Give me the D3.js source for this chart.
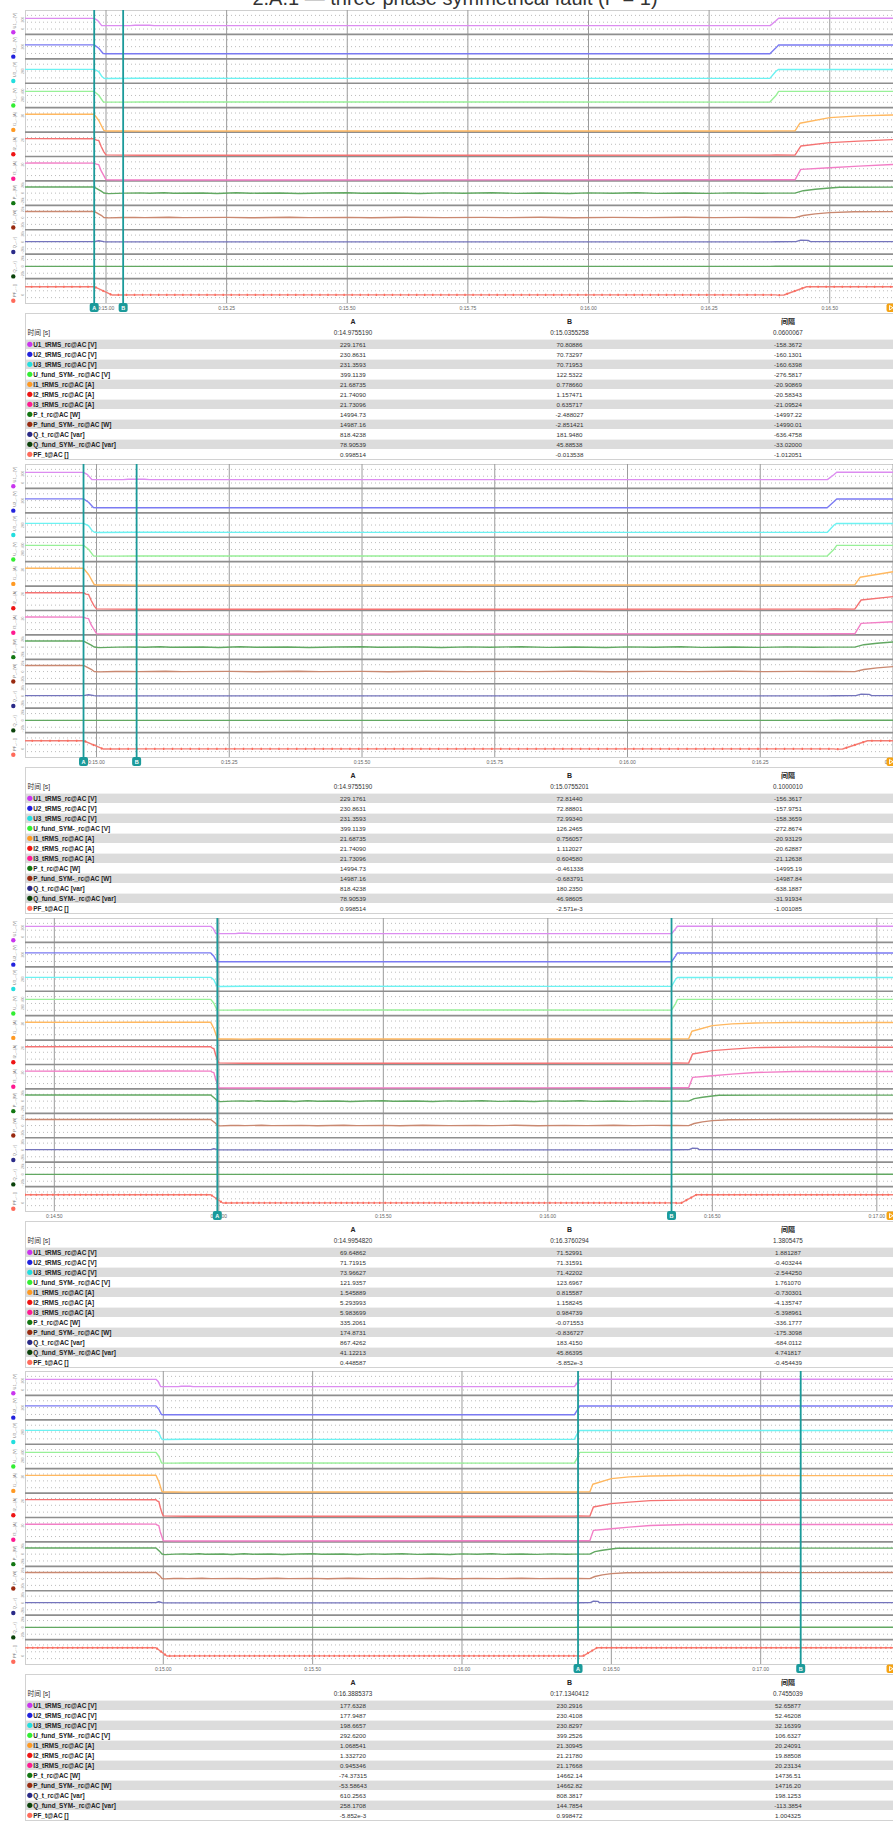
<!DOCTYPE html>
<html><head><meta charset="utf-8">
<script src="https://cdn.jsdelivr.net/npm/d3@7/dist/d3.min.js"></script>
<style>
body{margin:0;background:#fff;}
svg{display:block;font-family:"Liberation Sans","Noto Sans CJK SC",Arial,sans-serif;}
</style>
</head><body>
<svg id="c" width="893" height="1821"></svg>
<script>
// ---------------- DATA ----------------
const title = "2.A.1 — three-phase symmetrical fault (F = 1)";
const channelNames = ["U1_tRMS_rc@AC [V]","U2_tRMS_rc@AC [V]","U3_tRMS_rc@AC [V]","U_fund_SYM-_rc@AC [V]","I1_tRMS_rc@AC [A]","I2_tRMS_rc@AC [A]","I3_tRMS_rc@AC [A]","P_t_rc@AC [W]","P_fund_SYM-_rc@AC [W]","Q_t_rc@AC [var]","Q_fund_SYM-_rc@AC [var]","PF_t@AC []"];
const axisNames = ["U1_...[V]","U2_...[V]","U3_...[V]","U_...[V]","I1_...[A]","I2_...[A]","I3_...[A]","P_...[W]","P_...[W]","Q_...r]","Q_...r]","PF_...[]"];
const dotColors = ["#c935ee","#2222dd","#22dede","#33ee33","#ff9922","#ee1414","#ff1a90","#127712","#992a10","#2a2a88","#0a420a","#ff6a5a"];
const lineColors = ["#dc8cf0","#7a7af2","#6cf2f2","#98f098","#ffb860","#f47272","#f27ec6","#62a862","#c98870","#7474bc","#62a862","#f27c74"];
const yDomains = [[-120,410],[-20,420],[-15,420],[-20,610],[-0.5,30],[-0.5,30],[-0.5,30],[-30000,30000],[-30000,30000],[-30000,30000],[-30000,30000],[-1,2]];

// time [s], value
const sU1 = [[14.41,229.0],[14.70,229.3],[14.9755,229.2],[14.983,180],[14.991,72],[15.0,70.8],[15.05,71],[15.06,80],[15.09,80],[15.1,71.5],[16.3765,71.5],[16.3885,177.6],[16.394,230.2],[17.45,230.3]];
const sU2 = [[14.41,230.9],[14.9755,230.9],[14.985,170],[14.994,75],[15.0,70.7],[15.0755,72.9],[16.376,71.3],[16.3885,177.9],[16.394,230.4],[17.45,230.4]];
const sU3 = [[14.41,231.4],[14.9755,231.4],[14.985,190],[14.992,100],[14.996,74],[15.0,70.7],[15.0755,73.0],[16.376,71.4],[16.3885,198.7],[16.394,230.8],[17.45,230.8]];
const sUf = [[14.41,399.1],[14.9755,399.1],[14.985,300],[14.994,135],[14.9955,121.9],[15.0355,122.5],[15.0755,126.2],[16.376,123.7],[16.3885,292.6],[16.394,399.2],[17.45,399.3]];
const sI1 = [[14.41,21.7],[14.6,21.6],[14.75,21.75],[14.9755,21.69],[14.985,14],[14.9955,1.55],[15.0,0.9],[15.0355,0.78],[15.0755,0.76],[16.376,0.82],[16.3885,1.07],[16.428,1.0],[16.438,10.5],[16.5,17.5],[16.56,19.8],[16.63,20.9],[16.75,21.4],[16.9,21.2],[17.0,21.5],[17.134,21.31],[17.45,21.3]];
const sI2 = [[14.41,21.74],[14.7,21.8],[14.9755,21.74],[14.98,20.0],[14.985,19.5],[14.99,12],[14.9955,5.3],[15.0,1.5],[15.0355,1.16],[15.0755,1.11],[16.376,1.16],[16.3885,1.33],[16.428,1.2],[16.44,12.6],[16.5,16.8],[16.56,18.7],[16.63,20.6],[16.8,21.5],[16.95,21.0],[17.134,21.22],[17.45,21.2]];
const sI3 = [[14.41,21.73],[14.65,21.6],[14.85,21.8],[14.9755,21.73],[14.98,20.5],[14.985,19.8],[14.99,12],[14.9955,6.0],[15.0,1.0],[15.0355,0.64],[15.0755,0.6],[16.376,0.98],[16.3885,0.95],[16.428,0.9],[16.44,13.9],[16.5,16],[16.56,18],[16.63,20],[16.75,21.2],[17.134,21.18],[17.45,21.2]];
const sPt = [[14.41,14995],[14.6,14980],[14.8,15010],[14.9755,14995],[14.99,5000],[14.9955,335],[15.005,-1200],[15.04,-2.5],[15.07,600],[15.09,-400],[15.12,1000],[15.14,-300],[15.2,200],[15.23,-900],[15.27,800],[15.3,-200],[15.36,400],[15.4,-1000],[15.45,300],[15.5,1100],[15.53,-400],[15.6,200],[15.65,-800],[15.7,700],[15.74,-200],[15.8,900],[15.85,-600],[15.9,200],[15.96,-900],[16.0,600],[16.05,-300],[16.1,1000],[16.14,-500],[16.2,300],[16.25,-700],[16.3,500],[16.35,-300],[16.376,-72],[16.3885,-74],[16.428,-100],[16.445,6000],[16.47,9500],[16.5,12500],[16.52,14600],[16.7,14750],[17.134,14662],[17.45,14700]];
const sPf = [[14.41,14987],[14.7,14995],[14.9755,14987],[14.99,5500],[14.9955,175],[15.005,-900],[15.0355,-2.85],[15.06,500],[15.08,-300],[15.13,700],[15.16,-200],[15.25,400],[15.3,-500],[15.38,600],[15.42,-200],[15.5,500],[15.55,-400],[15.62,600],[15.7,-300],[15.78,500],[15.83,-200],[15.9,600],[15.97,-400],[16.05,500],[16.12,-300],[16.2,600],[16.26,-200],[16.32,400],[16.376,-0.84],[16.3885,-53.6],[16.428,-100],[16.445,5000],[16.47,9000],[16.5,12000],[16.55,14400],[16.7,14700],[17.134,14663],[17.45,14680]];
const sQt = [[14.41,818],[14.9755,818],[14.985,3000],[14.9955,867],[15.0,190],[16.376,183],[16.3885,610],[16.43,900],[16.44,4500],[16.455,4000],[16.46,900],[17.134,808],[17.45,810]];
const sQf = [[14.41,79],[14.9755,79],[14.9955,41],[15.0355,45.9],[16.376,45.9],[16.3885,258],[17.134,144.8],[17.45,145]];
const sPF = [[14.41,0.9985],[14.9755,0.9985],[14.9955,0.4486],[15.012,-0.0135],[15.0755,-0.0026],[16.376,-0.0059],[16.3885,-0.0059],[16.392,-0.03],[16.405,-0.02],[16.452,0.998],[17.134,0.9985],[17.45,0.9985]];
const series = [sU1,sU2,sU3,sUf,sI1,sI2,sI3,sPt,sPf,sQt,sQf,sPF];

const xDomains = [[14.8321,16.6311],[14.8653,16.5],[14.4109,17.0492],[14.537,17.443]];
const xTicks1 = [15.0,15.25,15.5,15.75,16.0,16.25,16.5];
const xTicks2 = [15.0,15.25,15.5,15.75,16.0,16.25,16.5];
const xTicks3 = [14.5,15.0,15.5,16.0,16.5,17.0];
const xTicks4 = [15.0,15.5,16.0,16.5,17.0];
const xTicks = [xTicks1,xTicks2,xTicks3,xTicks4];

const timeA = ["0:14.9755190","0:14.9755190","0:14.9954820","0:16.3885373"];
const timeB = ["0:15.0355258","0:15.0755201","0:16.3760294","0:17.1340412"];
const timeD = ["0.0600067","0.1000010","1.3805475","0.7455039"];

const p1A = ["229.1761","230.8631","231.3593","399.1139","21.68735","21.74090","21.73096","14994.73","14987.16","818.4238","78.90539","0.998514"];
const p1B = ["70.80886","70.73297","70.71953","122.5322","0.778660","1.157471","0.635717","-2.488027","-2.851421","181.9480","45.88538","-0.013538"];
const p1D = ["-158.3672","-160.1301","-160.6398","-276.5817","-20.90869","-20.58343","-21.09524","-14997.22","-14990.01","-636.4758","-33.02000","-1.012051"];
const p2A = ["229.1761","230.8631","231.3593","399.1139","21.68735","21.74090","21.73096","14994.73","14987.16","818.4238","78.90539","0.998514"];
const p2B = ["72.81440","72.88801","72.99340","126.2465","0.756057","1.112027","0.604580","-0.461338","-0.683791","180.2350","46.98605","-2.571e-3"];
const p2D = ["-156.3617","-157.9751","-158.3659","-272.8674","-20.93129","-20.62887","-21.12638","-14995.19","-14987.84","-638.1887","-31.91934","-1.001085"];
const p3A = ["69.64862","71.71915","73.96627","121.9357","1.545889","5.293993","5.983699","335.2061","174.8731","867.4262","41.12213","0.448587"];
const p3B = ["71.52991","71.31591","71.42202","123.6967","0.815587","1.158245","0.984739","-0.071553","-0.836727","183.4150","45.86395","-5.852e-3"];
const p3D = ["1.881287","-0.403244","-2.544250","1.761070","-0.730301","-4.135747","-5.398961","-336.1777","-175.3098","-684.0112","4.741817","-0.454439"];
const p4A = ["177.6328","177.9487","198.6657","292.6200","1.068541","1.332720","0.945346","-74.37315","-53.58643","610.2563","258.1708","-5.852e-3"];
const p4B = ["230.2916","230.4108","230.8297","399.2526","21.30945","21.21780","21.17668","14662.14","14662.82","808.3817","144.7854","0.998472"];
const p4D = ["52.65877","52.46208","32.16399","106.6327","20.24091","19.88508","20.23134","14736.51","14716.20","198.1253","-113.3854","1.004325"];
const tableA = [p1A,p2A,p3A,p4A], tableB = [p1B,p2B,p3B,p4B], tableD = [p1D,p2D,p3D,p4D];
const colHeaders = ["A","B","间隔"];
const timeLabel = "时间 [s]";

// ---------------- DRAW ----------------
const svg = d3.select("#c");
const L = 25, R = 893;
const panelTops = [10, 464, 918, 1371];
const CH = 293, NS = 12, SH = CH / NS;
const teal = "#1b9a9a";
const colX = [353, 569.5, 788];

svg.append("text").attr("x",455).attr("y",4.5).attr("text-anchor","middle")
  .attr("font-size",20).attr("fill","#333").text(title);

panelTops.forEach((oy, p) => {
  const g = svg.append("g");
  const x = d3.scaleLinear().domain(xDomains[p]).range([L, R]);
  const pxPerSec = (R - L) / (xDomains[p][1] - xDomains[p][0]);
  const clipId = "clip" + p;
  svg.append("clipPath").attr("id", clipId).append("rect")
    .attr("x", L).attr("y", oy).attr("width", R - L).attr("height", CH);

  g.append("rect").attr("x", L + 0.5).attr("y", oy + 0.5).attr("width", R - L + 10).attr("height", CH)
    .attr("fill", "#fff").attr("stroke", "#cfcfcf");

  // dotted grid rows
  for (let k = 0; k < NS; k++) {
    const y0 = oy + k * SH;
    [0.22, 0.5, 0.78].forEach(f => {
      g.append("line").attr("x1", L + 2).attr("x2", R).attr("y1", y0 + f * SH).attr("y2", y0 + f * SH)
        .attr("stroke", "#b4b4b4").attr("stroke-width", 0.9).attr("stroke-dasharray", "1,3");
    });
  }
  // vertical grid
  g.selectAll(".vg").data(xTicks[p]).enter().append("line")
    .attr("x1", d => x(d)).attr("x2", d => x(d)).attr("y1", oy).attr("y2", oy + CH)
    .attr("stroke", "#9c9c9c").attr("stroke-width", 1);
  // strip separators
  for (let k = 0; k < NS - 1; k++) {
    const yy = oy + (k + 1) * SH;
    g.append("line").attr("x1", L).attr("x2", R).attr("y1", yy).attr("y2", yy)
      .attr("stroke", "#8e8e8e").attr("stroke-width", 1.6);
  }
  // left axis area
  for (let k = 0; k < NS; k++) {
    const y0 = oy + k * SH;
    const ys = d3.scaleLinear().domain(yDomains[k]).range([y0 + SH, y0]);
    g.append("circle").attr("cx", 13.3).attr("cy", y0 + SH - 2.2).attr("r", 2.2).attr("fill", dotColors[k]);
    g.append("text").attr("transform", `translate(14.6,${y0 + SH - 6}) rotate(-90)`)
      .attr("font-size", 4).attr("fill", "#777").attr("dominant-baseline", "central").text(axisNames[k]);
    const tk = ys.ticks(2).filter(v => ys(v) > y0 + 3 && ys(v) < y0 + SH - 3);
    tk.forEach(v => {
      g.append("text").attr("transform", `translate(22.6,${ys(v)}) rotate(-90)`)
        .attr("font-size", 3.4).attr("fill", "#9a9a9a").attr("text-anchor", "middle")
        .attr("dominant-baseline", "central").text(d3.format("~s")(v));
    });
  }
  // series lines
  series.forEach((s, k) => {
    const y0 = oy + k * SH;
    const ys = d3.scaleLinear().domain(yDomains[k]).range([y0 + SH, y0]);
    const line = d3.line().x(d => x(d[0])).y(d => ys(d[1]));
    g.append("path").datum(s).attr("d", line).attr("clip-path", `url(#${clipId})`)
      .attr("fill", "none").attr("stroke", lineColors[k]).attr("stroke-width", 1.4)
      .attr("stroke-linejoin", "round");
    if (k === NS - 1) {
      const sp = 0.0167 * pxPerSec;
      g.append("path").datum(s).attr("d", line).attr("clip-path", `url(#${clipId})`)
        .attr("fill", "none").attr("stroke", dotColors[k]).attr("stroke-width", 2.2)
        .attr("stroke-dasharray", `1.4,${(sp - 1.4).toFixed(2)}`);
    }
  });
  // x labels
  g.selectAll(".xl").data(xTicks[p]).enter().append("text")
    .attr("x", d => x(d)).attr("y", oy + CH + 4.5).attr("text-anchor", "middle")
    .attr("dominant-baseline", "central").attr("font-size", 5).attr("fill", "#666")
    .text(d => "0:" + d.toFixed(2));
  // cursors
  const parseT = s => +s.split(":")[1];
  [["A", timeA[p]], ["B", timeB[p]]].forEach(([lab, ts]) => {
    const cx = x(parseT(ts));
    g.append("line").attr("x1", cx).attr("x2", cx).attr("y1", oy).attr("y2", oy + CH)
      .attr("stroke", teal).attr("stroke-width", 1.8);
    g.append("rect").attr("x", cx - 4.5).attr("y", oy + CH).attr("width", 9).attr("height", 9).attr("rx", 2)
      .attr("fill", teal);
    g.append("text").attr("x", cx).attr("y", oy + CH + 4.7).attr("text-anchor", "middle")
      .attr("dominant-baseline", "central").attr("font-size", 5.5).attr("font-weight", "bold")
      .attr("fill", "#fff").text(lab);
  });
  // orange end marker
  g.append("rect").attr("x", 886.5).attr("y", oy + CH + 0.5).attr("width", 12).attr("height", 8.5).attr("rx", 2)
    .attr("fill", "#f5a313");
  g.append("path").attr("d", `M889.5,${oy + CH + 2.5}L889.5,${oy + CH + 7}L893,${oy + CH + 4.75}Z`)
    .attr("fill", "none").attr("stroke", "#fff").attr("stroke-width", 0.9);

  // table
  const ty = oy + 303.5;
  g.append("rect").attr("x", L + 0.5).attr("y", ty).attr("width", R - L + 10).attr("height", 146)
    .attr("fill", "#fff").attr("stroke", "#d2d2d2");
  colHeaders.forEach((h, i) => {
    g.append("text").attr("x", colX[i]).attr("y", oy + 311.7).attr("text-anchor", "middle")
      .attr("dominant-baseline", "central").attr("font-size", 7).attr("font-weight", "bold")
      .attr("fill", "#222").text(h);
  });
  g.append("text").attr("x", 27.5).attr("y", oy + 322.3).attr("dominant-baseline", "central")
    .attr("font-size", 6.8).attr("fill", "#333").text(timeLabel);
  [timeA[p], timeB[p], timeD[p]].forEach((t, i) => {
    g.append("text").attr("x", colX[i]).attr("y", oy + 322.3).attr("text-anchor", "middle")
      .attr("dominant-baseline", "central").attr("font-size", 6.3).attr("fill", "#333").text(t);
  });
  channelNames.forEach((nm, k) => {
    const yc = oy + 334.3 + 10 * k;
    if (k % 2 === 0) {
      g.append("rect").attr("x", L + 1).attr("y", yc - 4.7).attr("width", R - L).attr("height", 9.4)
        .attr("fill", "#dcdcdc");
    }
    g.append("circle").attr("cx", 29.8).attr("cy", yc).attr("r", 2.6).attr("fill", dotColors[k]);
    g.append("text").attr("x", 33.2).attr("y", yc).attr("dominant-baseline", "central")
      .attr("font-size", 6.4).attr("font-weight", "bold").attr("fill", "#222").text(nm);
    [tableA[p][k], tableB[p][k], tableD[p][k]].forEach((v, i) => {
      g.append("text").attr("x", colX[i]).attr("y", yc).attr("text-anchor", "middle")
        .attr("dominant-baseline", "central").attr("font-size", 6.2).attr("fill", "#333").text(v);
    });
  });
});
</script>
</body></html>
